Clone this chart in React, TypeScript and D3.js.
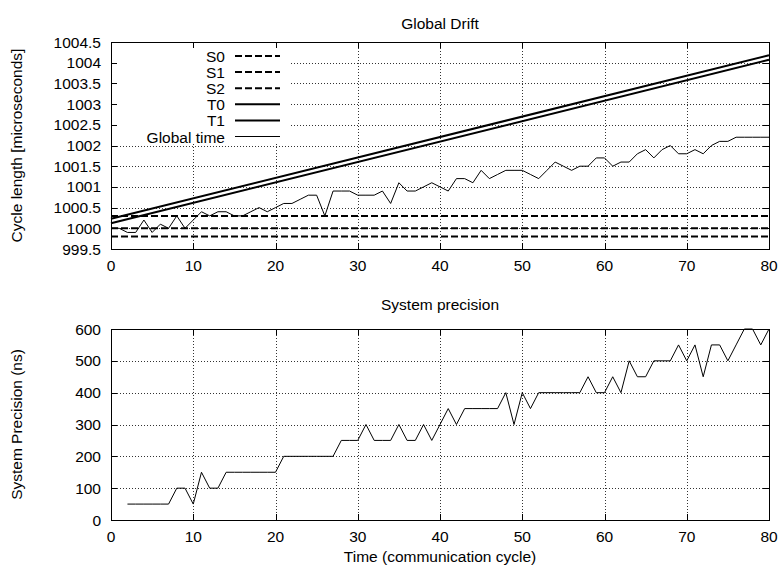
import React from 'react';
import * as d3 from 'd3';

// cycle axis ticks shared by both panels
const cycleTicks = [0, 10, 20, 30, 40, 50, 60, 70, 80];
const driftTicks = [999.5, 1000, 1000.5, 1001, 1001.5, 1002, 1002.5, 1003, 1003.5, 1004, 1004.5];
const precisionTicks = [0, 100, 200, 300, 400, 500, 600];

// constant slave nodes
const staticNodes = [
  { name: 'S0', value: 1000.3 },
  { name: 'S1', value: 1000.0 },
  { name: 'S2', value: 999.8 },
];

// drifting nodes: value at first and last cycle
const driftNodes = [
  { name: 'T0', start: 1000.23, end: 1004.18 },
  { name: 'T1', start: 1000.12, end: 1004.07 },
];

// global time, cycles 0..80
const globalTime = [
  1000.0, 1000.0, 999.9, 999.9, 1000.2, 999.9, 1000.1, 1000.0, 1000.3, 1000.0,
  1000.2, 1000.4, 1000.3, 1000.4, 1000.4, 1000.3, 1000.3, 1000.4, 1000.5, 1000.4,
  1000.5, 1000.6, 1000.6, 1000.7, 1000.8, 1000.8, 1000.3, 1000.9, 1000.9, 1000.9,
  1000.8, 1000.8, 1000.8, 1000.9, 1000.6, 1001.1, 1000.9, 1000.9, 1001.0, 1001.1,
  1001.0, 1000.9, 1001.2, 1001.2, 1001.1, 1001.4, 1001.2, 1001.3, 1001.4, 1001.4,
  1001.4, 1001.3, 1001.2, 1001.4, 1001.6, 1001.5, 1001.4, 1001.5, 1001.5, 1001.7,
  1001.7, 1001.5, 1001.6, 1001.6, 1001.8, 1001.9, 1001.7, 1001.9, 1002.0, 1001.8,
  1001.8, 1001.9, 1001.8, 1002.0, 1002.1, 1002.1, 1002.2, 1002.2, 1002.2, 1002.2,
  1002.2,
];

// system precision (ns), cycles 2..80
const precisionFirstCycle = 2;
const precision = [
  50, 50, 50, 50, 50, 50, 100, 100, 50, 150,
  100, 100, 150, 150, 150, 150, 150, 150, 150, 200,
  200, 200, 200, 200, 200, 200, 250, 250, 250, 300,
  250, 250, 250, 300, 250, 250, 300, 250, 300, 350,
  300, 350, 350, 350, 350, 350, 400, 300, 400, 350,
  400, 400, 400, 400, 400, 400, 450, 400, 400, 450,
  400, 500, 450, 450, 500, 500, 500, 550, 500, 550,
  450, 550, 550, 500, 550, 600, 600, 550, 600,
];

const W = 781;
const H = 568;
const left = 111;
const right = 769;
const font = 'Liberation Sans, Arial, Helvetica, sans-serif';
const fs = 15.5;

const x = d3.scaleLinear().domain([0, 80]).range([left, right]);
const yDrift = d3.scaleLinear().domain([999.5, 1004.5]).range([249, 42]);
const yPrec = d3.scaleLinear().domain([0, 600]).range([520, 329]);

const px = (v: number) => Math.round(v) + 0.5;

function Frame({ y, yTicks }: { y: d3.ScaleLinear<number, number>; yTicks: number[] }) {
  const [bottom, top] = y.range();
  const tl = 6;
  return (
    <g>
      {/* ticks inward on all sides */}
      <g stroke="#000" strokeWidth={1} shapeRendering="crispEdges">
        {yTicks.map((t, i) => (
          <g key={'yt' + i}>
            <line x1={left} x2={left + tl} y1={px(y(t))} y2={px(y(t))} />
            <line x1={right} x2={right - tl} y1={px(y(t))} y2={px(y(t))} />
          </g>
        ))}
        {cycleTicks.map((t, i) => (
          <g key={'xt' + i}>
            <line x1={px(x(t))} x2={px(x(t))} y1={bottom} y2={bottom - tl} />
            <line x1={px(x(t))} x2={px(x(t))} y1={top} y2={top + tl} />
          </g>
        ))}
      </g>
      <rect x={px(left)} y={px(top)} width={Math.round(right) - Math.round(left)} height={Math.round(bottom) - Math.round(top)}
        fill="none" stroke="#000" strokeWidth={1} shapeRendering="crispEdges" />
      <g fontFamily={font} fontSize={fs} fill="#000">
        {yTicks.map((t, i) => (
          <text key={'yl' + i} x={left - 10} y={y(t) + 5.5} textAnchor="end">{String(t)}</text>
        ))}
        {cycleTicks.map((t, i) => (
          <text key={'xl' + i} x={x(t)} y={bottom + 22} textAnchor="middle">{t}</text>
        ))}
      </g>
    </g>
  );
}

function Grid({ y, yTicks }: { y: d3.ScaleLinear<number, number>; yTicks: number[] }) {
  const [bottom, top] = y.range();
  return (
    <g stroke="#333" strokeWidth={1} strokeDasharray="1,2" shapeRendering="crispEdges">
      {yTicks.slice(1, -1).map((t, i) => (
        <line key={'gy' + i} x1={left} x2={right} y1={px(y(t))} y2={px(y(t))} />
      ))}
      {cycleTicks.slice(1, -1).map((t, i) => (
        <line key={'gx' + i} x1={px(x(t))} x2={px(x(t))} y1={top} y2={bottom} />
      ))}
    </g>
  );
}

export default function App() {
  const globalLine = d3.line<number>().x((_, i) => x(i)).y(d => yDrift(d))(globalTime) || '';
  const precLine = d3.line<number>().x((_, i) => x(i + precisionFirstCycle)).y(d => yPrec(d))(precision) || '';

  const legend = [
    ...staticNodes.map(s => ({ name: s.name, dash: '7,3', w: 2 })),
    ...driftNodes.map(s => ({ name: s.name, dash: undefined, w: 2 })),
    { name: 'Global time', dash: undefined, w: 1 },
  ];

  return (
    <svg width={W} height={H} style={{ position: 'absolute', left: 0, top: 0, background: '#fff' }}>
      {/* Global Drift */}
      <text x={(left + right) / 2} y={29} textAnchor="middle" fontFamily={font} fontSize={fs}>Global Drift</text>
      <Grid y={yDrift} yTicks={driftTicks} />
      {/* opaque key box */}
      <rect x={left + 1} y={43} width={178} height={100} fill="#fff" />
      <g fontFamily={font} fontSize={fs}>
        {legend.map((l, i) => {
          const ly = 56 + i * 16.1;
          return (
            <g key={l.name}>
              <text x={225} y={ly + 6} textAnchor="end">{l.name}</text>
              <line x1={235} x2={280} y1={ly} y2={ly} stroke="#000" strokeWidth={l.w} strokeDasharray={l.dash} />
            </g>
          );
        })}
      </g>
      <g stroke="#000" fill="none">
        {staticNodes.map(s => (
          <line key={s.name} x1={left} x2={right} y1={yDrift(s.value)} y2={yDrift(s.value)} strokeWidth={2} strokeDasharray="7,3" />
        ))}
        {driftNodes.map(s => (
          <line key={s.name} x1={x(0)} x2={x(80)} y1={yDrift(s.start)} y2={yDrift(s.end)} strokeWidth={2} />
        ))}
        <path d={globalLine} strokeWidth={1} />
      </g>
      <Frame y={yDrift} yTicks={driftTicks} />
      <text transform={`translate(22,${(42 + 249) / 2}) rotate(-90)`} textAnchor="middle" fontFamily={font} fontSize={fs}>
        Cycle length [microseconds]
      </text>

      {/* System precision */}
      <text x={(left + right) / 2} y={310} textAnchor="middle" fontFamily={font} fontSize={fs}>System precision</text>
      <Grid y={yPrec} yTicks={precisionTicks} />
      <path d={precLine} stroke="#000" strokeWidth={1} fill="none" />
      <Frame y={yPrec} yTicks={precisionTicks} />
      <text transform={`translate(22,${(329 + 520) / 2}) rotate(-90)`} textAnchor="middle" fontFamily={font} fontSize={fs}>
        System Precision (ns)
      </text>
      <text x={(left + right) / 2} y={562} textAnchor="middle" fontFamily={font} fontSize={fs}>Time (communication cycle)</text>
    </svg>
  );
}
